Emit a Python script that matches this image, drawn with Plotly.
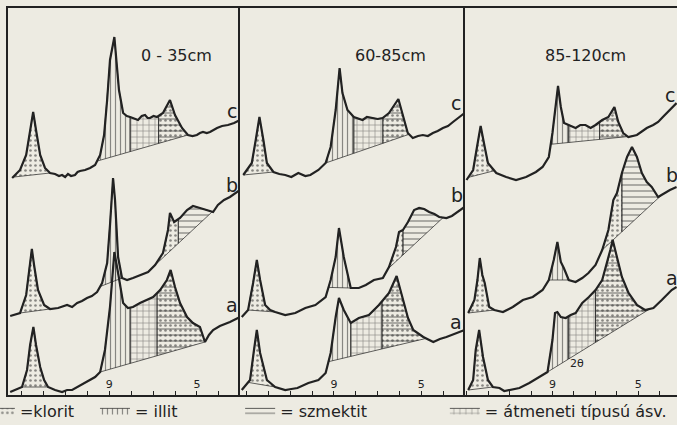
import numpy as np
import plotly.graph_objects as go

BG = "#edebe2"
INK = "#222222"
FONT = "DejaVu Sans"

# ---------------- panels ----------------
panel_titles = ["0 - 35cm", "60-85cm", "85-120cm"]
panel_ranges = [(13.63, 3.03), (13.30, 3.00), (13.08, 3.19)]   # 2-theta, reversed
curve_names = ["c", "b", "a"]
tick_values = [9, 5]
tick_labels = ["9", "5"]

# ---------------- diffractograms (2theta, intensity, offset curves) ----------------
p1_c_tt = [13.44,13.08,12.80,12.62,12.48,12.35,12.16,11.94,11.71,11.48,11.30,11.16,11.02,10.89,10.75,10.57,10.45,10.34,10.11,9.88,9.65,9.42,9.24,9.10,8.97,8.77,8.69,8.56,8.37,8.20,8.05,7.85,7.69,7.52,7.37,7.25,7.14,6.98,6.82,6.55,6.23,6.00,5.68,5.41,5.20,5.00,4.86,4.72,4.55,4.40,4.25,4.08,3.85,3.58,3.30,3.03]
p1_c_i = [217,225,240,265,283,265,240,227,222,221,219,220,218,221,219,220,223,224,225,227,230,240,260,295,335,358,335,305,282,279,278,276,275,279,280,277,277,279,278,282,295,280,267,260,259,260,262,263,262,263,265,267,269,270,272,275]

p1_b_tt = [13.53,13.08,12.80,12.67,12.54,12.44,12.26,11.98,11.71,11.34,10.93,10.70,10.47,10.25,10.02,9.80,9.56,9.33,9.10,8.97,8.83,8.74,8.60,8.42,8.19,7.92,7.60,7.23,6.91,6.55,6.32,6.23,6.04,5.77,5.45,5.18,4.86,4.54,4.26,4.04,3.76,3.49,3.03]
p1_b_i = [79,82,100,125,146,130,105,90,86,87,90,88,92,94,97,99,103,112,132,170,217,195,138,117,115,117,120,123,130,142,165,182,173,177,185,189,187,185,183,190,195,198,205]

p1_a_tt = [13.53,12.99,12.76,12.62,12.47,12.35,12.16,11.98,11.80,11.48,11.16,10.93,10.70,10.47,10.25,10.02,9.65,9.42,9.20,8.97,8.77,8.60,8.37,8.15,7.92,7.60,7.28,7.00,6.68,6.37,6.20,6.00,5.77,5.45,5.18,4.86,4.63,4.45,4.26,3.95,3.49,3.03]
p1_a_i = [3,8,25,50,68,50,28,15,8,5,3,5,5,8,10,13,18,23,45,88,143,122,92,87,88,92,95,98,105,115,125,108,92,78,72,68,53,60,65,69,73,78]

p2_c_tt = [13.15,12.76,12.58,12.41,12.23,12.07,11.77,11.50,11.23,10.95,10.63,10.31,10.08,9.71,9.38,9.15,8.92,8.74,8.61,8.38,8.09,7.69,7.49,7.23,7.00,6.77,6.48,6.05,5.85,5.62,5.39,5.15,4.93,4.70,4.47,4.25,4.01,3.78,3.55,3.02]
p2_c_i = [220,232,255,278,255,232,223,221,220,218,222,219,220,225,232,248,285,327,302,285,278,275,278,277,276,277,282,296,280,262,257,259,260,259,262,264,267,269,273,282]

p2_b_tt = [13.22,12.93,12.70,12.53,12.38,12.15,11.92,11.69,11.23,10.77,10.31,9.85,9.38,9.15,8.92,8.77,8.55,8.23,7.86,7.54,7.17,6.76,6.48,6.16,6.02,5.84,5.61,5.33,5.10,4.87,4.64,4.40,4.18,3.85,3.60,3.39,3.02]
p2_b_i = [78,85,112,135,115,90,85,83,80,82,87,90,98,115,138,167,138,107,107,110,115,117,128,148,163,165,173,185,187,186,183,181,178,177,179,182,188]

p2_a_tt = [13.22,12.84,12.66,12.53,12.38,12.07,11.69,11.23,10.95,10.67,10.17,9.71,9.38,9.15,8.92,8.77,8.55,8.23,7.86,7.40,6.94,6.48,6.13,5.84,5.61,5.37,4.91,4.45,4.15,3.85,3.39,3.02]
p2_a_i = [5,15,45,65,42,15,8,5,6,7,12,15,22,42,78,97,85,72,77,80,90,102,119,95,77,65,58,53,56,58,62,65]

p3_c_tt = [13.01,12.70,12.52,12.35,12.16,12.01,11.62,11.16,10.70,10.23,9.77,9.46,9.17,9.00,8.74,8.61,8.46,8.24,7.92,7.70,7.46,7.22,6.99,6.68,6.39,6.11,5.93,5.70,5.46,5.06,4.60,4.30,4.07,3.85,3.61,3.21]
p3_c_i = [215,225,248,269,248,232,222,218,215,218,223,228,238,262,309,288,272,270,267,270,270,267,270,275,278,288,273,262,258,260,267,270,273,278,283,292]

p3_b_tt = [12.93,12.64,12.50,12.39,12.27,12.16,11.95,11.71,11.31,10.85,10.38,9.92,9.46,9.17,8.94,8.77,8.61,8.47,8.24,7.92,7.61,7.32,6.99,6.68,6.39,6.16,5.99,5.76,5.52,5.29,5.06,4.83,4.60,4.37,4.07,3.75,3.52,3.21]
p3_b_i = [82,95,115,137,120,112,88,85,83,88,95,98,105,115,135,153,133,127,115,113,117,122,130,145,165,195,202,222,238,248,238,222,213,208,198,202,205,208]

p3_a_tt = [12.93,12.70,12.58,12.42,12.24,12.01,11.78,11.47,11.25,11.01,10.54,10.08,9.62,9.23,9.00,8.88,8.77,8.61,8.38,8.15,7.92,7.61,7.30,6.99,6.68,6.45,6.30,6.19,5.99,5.76,5.45,5.06,4.68,4.29,3.90,3.44,3.21]
p3_a_i = [5,15,45,65,38,15,8,7,4,5,7,12,18,23,55,82,83,78,77,80,82,92,98,105,115,132,145,155,138,118,102,90,85,87,95,105,108]

curves = {
    (0, "c"): (p1_c_tt, p1_c_i), (0, "b"): (p1_b_tt, p1_b_i), (0, "a"): (p1_a_tt, p1_a_i),
    (1, "c"): (p2_c_tt, p2_c_i), (1, "b"): (p2_b_tt, p2_b_i), (1, "a"): (p2_a_tt, p2_a_i),
    (2, "c"): (p3_c_tt, p3_c_i), (2, "b"): (p3_b_tt, p3_b_i), (2, "a"): (p3_a_tt, p3_a_i),
}

# shaded mineral areas: (baseline start, baseline end, [(from, to, mineral), ...]) in 2theta
# k = klorit, i = illit, at = atmeneti, sz = szmektit, sd = szmektit with stipple
fills = {
    (0, "c"): [(13.40, 11.71, [(13.40, 11.71, "k")]),
               (9.56, 5.41, [(9.56, 8.05, "i"), (8.05, 6.75, "at"), (6.75, 5.41, "sd")])],
    (0, "b"): [(13.08, 11.71, [(13.08, 11.71, "k")]),
               (9.42, 8.42, [(9.42, 8.42, "i")]),
               (6.91, 4.17, [(6.91, 5.85, "k"), (5.85, 4.17, "sz")])],
    (0, "a"): [(12.99, 11.80, [(12.99, 11.80, "k")]),
               (9.42, 4.63, [(9.42, 8.05, "i"), (8.05, 6.82, "at"), (6.82, 4.63, "sd")])],
    (1, "c"): [(13.15, 11.77, [(13.15, 11.77, "k")]),
               (9.38, 5.56, [(9.38, 8.09, "i"), (8.09, 6.76, "at"), (6.76, 5.56, "sd")])],
    (1, "b"): [(12.93, 11.69, [(12.93, 11.69, "k")]),
               (9.25, 8.23, [(9.25, 8.23, "i")]),
               (6.53, 4.00, [(6.53, 5.84, "k"), (5.84, 4.00, "sz")])],
    (1, "a"): [(12.93, 11.69, [(12.93, 11.69, "k")]),
               (9.25, 4.78, [(9.25, 8.23, "i"), (8.23, 6.80, "at"), (6.80, 4.78, "sd")])],
    (2, "c"): [(12.93, 11.71, [(12.93, 11.71, "k")]),
               (9.08, 5.29, [(9.08, 8.24, "i"), (8.24, 6.80, "at"), (6.80, 5.29, "sd")])],
    (2, "b"): [(12.93, 11.71, [(12.93, 11.71, "k")]),
               (9.17, 8.24, [(9.17, 8.24, "i")]),
               (6.68, 3.90, [(6.68, 5.76, "k"), (5.76, 3.90, "sz")])],
    (2, "a"): [(12.93, 11.78, [(12.93, 11.78, "k")]),
               (9.23, 4.45, [(9.23, 8.24, "i"), (8.24, 6.99, "at"), (6.99, 4.45, "sd")])],
}

legend_names = {"k": "=klorit", "i": "= illit", "sz": "= szmektit", "at": "= átmeneti típusú ásv."}
legend_ids = {"k": "legend", "i": "legend2", "sz": "legend3", "at": "legend4"}

PAT = {
    "k": dict(shape=".", size=5, solidity=0.22),
    "i": dict(shape="|", size=5, solidity=0.24),
    "at": dict(shape="+", size=6, solidity=0.2),
    "sz": dict(shape="-", size=6, solidity=0.22),
}


def interp(tt, ii, t):
    return float(np.interp(t, tt[::-1], ii[::-1]))


def polygon(tt, ii, g0, g1, a, b):
    y0, y1 = interp(tt, ii, g0), interp(tt, ii, g1)
    base = lambda t: y0 + (y1 - y0) * (g0 - t) / (g0 - g1)
    xs = [a] + [t for t in tt if b < t < a] + [b]
    ys = [interp(tt, ii, t) for t in xs]
    xs = xs + [b, a, a]
    ys = ys + [base(b), base(a), ys[0]]
    return xs, ys


fig = go.Figure()
shown = set()

for p in range(3):
    ax = "" if p == 0 else str(p + 1)
    for cn in curve_names:
        tt, ii = curves[(p, cn)]
        for g0, g1, segs in fills[(p, cn)]:
            for a, b, kind in segs:
                xs, ys = polygon(tt, ii, g0, g1, a, b)
                layers = ["sz", "k"] if kind == "sd" else [kind]
                for li, lk in enumerate(layers):
                    show = (lk not in shown) and li == 0
                    if show:
                        shown.add(lk)
                    fig.add_trace(go.Scatter(
                        x=xs, y=ys, xaxis="x" + ax, yaxis="y" + ax,
                        mode="lines", fill="toself",
                        fillcolor="rgba(0,0,0,0)",
                        fillpattern=dict(fgcolor=INK, bgcolor="rgba(0,0,0,0)", **PAT[lk]),
                        line=dict(color=INK, width=0.7 if li == 0 else 0),
                        name=legend_names[lk], legend=legend_ids[lk],
                        showlegend=show, hoverinfo="skip"))
        fig.add_trace(go.Scatter(
            x=tt, y=ii, xaxis="x" + ax, yaxis="y" + ax, mode="lines",
            line=dict(color=INK, width=2.2), showlegend=False, hoverinfo="skip"))

domains = [[0, 0.3468], [0.3468, 0.6831], [0.6831, 1.0]]
layout = dict(
    width=677, height=425,
    margin=dict(l=8, r=0, t=8, b=30, autoexpand=False),
    paper_bgcolor=BG, plot_bgcolor=BG,
    font=dict(family=FONT, color=INK),
)
for p in range(3):
    ax = "" if p == 0 else str(p + 1)
    layout["xaxis" + ax] = dict(
        domain=domains[p], range=list(panel_ranges[p]), anchor="y" + ax,
        showline=True, mirror=True, linecolor=INK, linewidth=1.6,
        showgrid=False, zeroline=False,
        tickmode="array", tickvals=tick_values, ticktext=tick_labels,
        ticks="inside", ticklen=4, tickwidth=1, tickcolor=INK,
        ticklabelposition="inside", tickfont=dict(size=11, color=INK),
        minor=dict(tickmode="linear", tick0=0, dtick=1, ticks="inside",
                   ticklen=4, tickwidth=1, tickcolor=INK, showgrid=False),
    )
    layout["yaxis" + ax] = dict(
        domain=[0, 1], range=[0, 387], anchor="x" + ax,
        showline=True, mirror=False, linecolor=INK, linewidth=1.6,
        showgrid=False, zeroline=False, showticklabels=False, ticks="",
    )

legend_x = {"legend": -0.042, "legend2": 0.130, "legend3": 0.347, "legend4": 0.653}
for lid, lx in legend_x.items():
    layout[lid] = dict(x=lx, y=-0.04, xanchor="left", yanchor="middle",
                       orientation="h", bgcolor="rgba(0,0,0,0)", itemwidth=30,
                       font=dict(size=16, family=FONT, color=INK))
fig.update_layout(**layout)

# panel titles and curve letters
title_pos = [(5.95, 340), (6.39, 340), (7.45, 340)]
letter_pos = {
    0: {"c": (3.40, 284), "b": (3.40, 210), "a": (3.40, 90)},
    1: {"c": (3.39, 292), "b": (3.35, 200), "a": (3.39, 73)},
    2: {"c": (3.52, 300), "b": (3.43, 220), "a": (3.43, 117)},
}
for p in range(3):
    ax = "" if p == 0 else str(p + 1)
    fig.add_annotation(x=title_pos[p][0], y=title_pos[p][1], xref="x" + ax, yref="y" + ax,
                       text=panel_titles[p], showarrow=False, font=dict(size=16))
    for cn in curve_names:
        lx, ly = letter_pos[p][cn]
        fig.add_annotation(x=lx, y=ly, xref="x" + ax, yref="y" + ax, text=cn,
                           showarrow=False, font=dict(size=19))
fig.add_annotation(x=7.84, y=32, xref="x3", yref="y3", text="2θ",
                   showarrow=False, font=dict(size=11))

fig.write_html(
    "out.html",
    config={"displayModeBar": False},
    post_script="document.body.style.margin='0px';"
                "document.documentElement.style.overflow='hidden';",
)
